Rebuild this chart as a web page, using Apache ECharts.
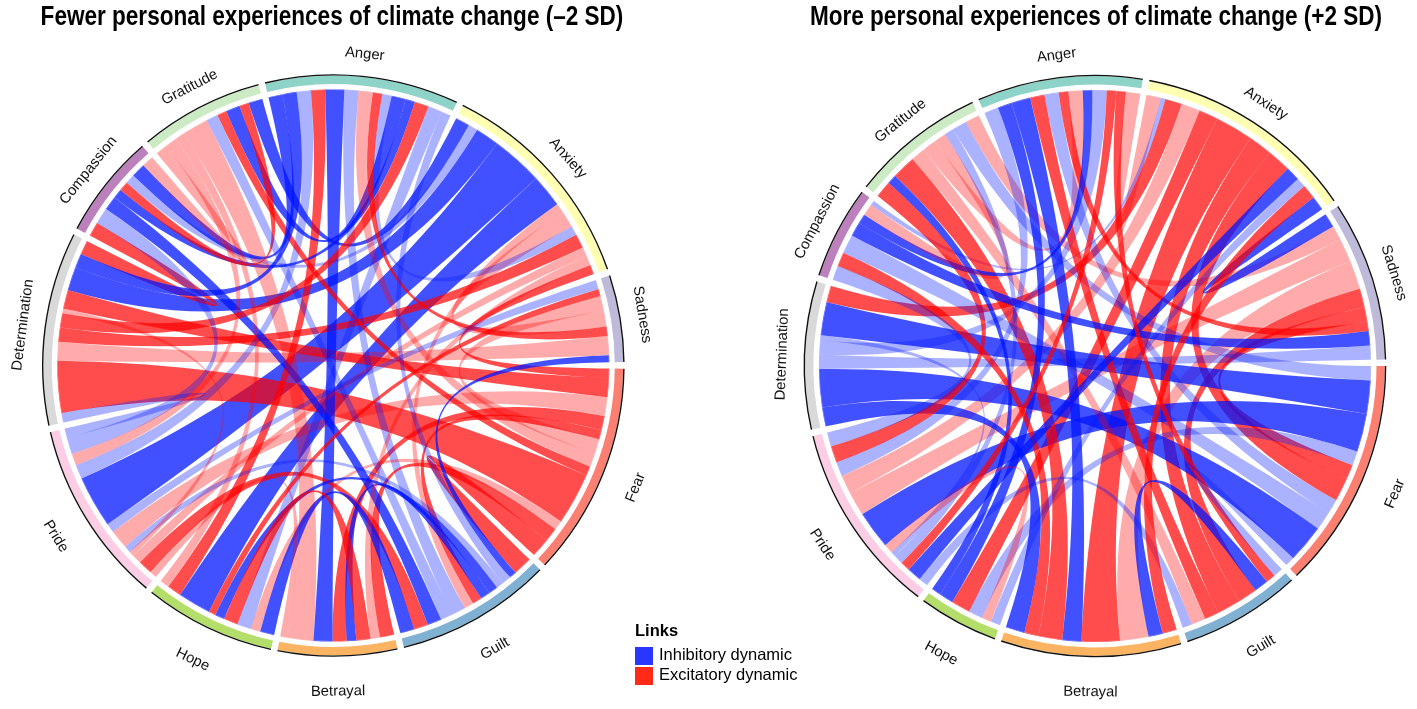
<!DOCTYPE html>
<html>
<head>
<meta charset="utf-8">
<script src="https://cdn.jsdelivr.net/npm/echarts@6.0.0/dist/echarts.min.js"></script>
<style>
  html, body { margin: 0; padding: 0; background: #fff; }
  #main { width: 1417px; height: 709px; }
</style>
</head>
<body>
<div id="main"></div>
<script>
const emotions = ['Anger', 'Anxiety', 'Sadness', 'Fear', 'Guilt', 'Betrayal', 'Hope', 'Pride', 'Determination', 'Compassion', 'Gratitude'];
const sectorColors = ['#8DD3C7', '#FFFFB3', '#BEBADA', '#FB8072', '#80B1D3', '#FDB462', '#B3DE69', '#FCCDE5', '#D9D9D9', '#BC80BD', '#CCEBC5'];

// [source, target, weight, kind]  B/b = inhibitory (strong/weak), R/r = excitatory (strong/weak)
const linksLow = [
  ['Anxiety', 'Pride', 11, 'B'],
  ['Anxiety', 'Hope', 7, 'B'],
  ['Anxiety', 'Determination', 5, 'B'],
  ['Anxiety', 'Gratitude', 3, 'B'],
  ['Anxiety', 'Compassion', 2, 'b'],
  ['Anxiety', 'Guilt', 2, 'r'],
  ['Anxiety', 'Sadness', 3.5, 'r'],
  ['Determination', 'Fear', 11, 'R'],
  ['Determination', 'Sadness', 4, 'r'],
  ['Determination', 'Anxiety', 3, 'R'],
  ['Fear', 'Determination', 4, 'R'],
  ['Fear', 'Pride', 4, 'r'],
  ['Fear', 'Guilt', 2, 'R'],
  ['Fear', 'Betrayal', 3, 'R'],
  ['Sadness', 'Fear', 3, 'r'],
  ['Anger', 'Betrayal', 4, 'B'],
  ['Anger', 'Guilt', 3, 'b'],
  ['Anger', 'Hope', 3, 'R'],
  ['Anger', 'Pride', 3, 'b'],
  ['Gratitude', 'Anger', 3, 'B'],
  ['Compassion', 'Anger', 2, 'B'],
  ['Guilt', 'Fear', 4, 'R'],
  ['Guilt', 'Betrayal', 2, 'B'],
  ['Betrayal', 'Fear', 3, 'R'],
  ['Hope', 'Fear', 2, 'r'],
  ['Pride', 'Guilt', 3, 'R'],
  ['Pride', 'Anxiety', 2, 'r'],
  ['Gratitude', 'Fear', 2, 'R'],
  ['Compassion', 'Guilt', 3, 'B'],
  ['Gratitude', 'Betrayal', 5.5, 'r'],
  ['Hope', 'Guilt', 3, 'B'],
  ['Pride', 'Betrayal', 1.5, 'r'],
  ['Anger', 'Anxiety', 2, 'b'],
  ['Compassion', 'Determination', 3, 'R'],
  ['Gratitude', 'Hope', 2, 'r'],
  ['Anger', 'Sadness', 2, 'R'],
  ['Determination', 'Pride', 2, 'b'],
  ['Anger', 'Fear', 3, 'r'],
  ['Determination', 'Anger', 3, 'R'],
  ['Hope', 'Anger', 3, 'b'],
  ['Anger', 'Compassion', 3, 'B'],
  ['Guilt', 'Anger', 2, 'b'],
  ['Anger', 'Determination', 3, 'B'],
  ['Fear', 'Anxiety', 2, 'R'],
  ['Betrayal', 'Anxiety', 2, 'r'],
  ['Sadness', 'Pride', 2, 'b'],
  ['Guilt', 'Sadness', 1.5, 'B'],
  ['Sadness', 'Hope', 1.5, 'R'],
  ['Guilt', 'Hope', 2, 'B'],
  ['Guilt', 'Pride', 1.5, 'b'],
  ['Betrayal', 'Hope', 3, 'R'],
  ['Pride', 'Determination', 1, 'r'],
  ['Compassion', 'Pride', 3.5, 'b'],
  ['Gratitude', 'Compassion', 2.5, 'r'],
  ['Compassion', 'Gratitude', 2, 'R'],
  ['Gratitude', 'Guilt', 2.5, 'b'],
  ['Gratitude', 'Pride', 2.5, 'r']
];

const linksHigh = [
  ['Anxiety', 'Betrayal', 8, 'R'],
  ['Anxiety', 'Guilt', 5, 'R'],
  ['Anxiety', 'Fear', 5, 'R'],
  ['Anxiety', 'Hope', 4, 'R'],
  ['Anxiety', 'Pride', 4, 'r'],
  ['Anxiety', 'Anger', 3, 'r'],
  ['Anxiety', 'Determination', 3.5, 'R'],
  ['Anxiety', 'Compassion', 1, 'b'],
  ['Sadness', 'Betrayal', 6, 'r'],
  ['Sadness', 'Pride', 5, 'r'],
  ['Sadness', 'Guilt', 4, 'R'],
  ['Sadness', 'Fear', 3, 'R'],
  ['Sadness', 'Gratitude', 3, 'r'],
  ['Sadness', 'Anxiety', 3, 'B'],
  ['Fear', 'Determination', 7, 'B'],
  ['Fear', 'Pride', 8, 'B'],
  ['Fear', 'Hope', 3, 'b'],
  ['Fear', 'Gratitude', 3, 'b'],
  ['Determination', 'Fear', 8, 'B'],
  ['Determination', 'Sadness', 3, 'b'],
  ['Determination', 'Betrayal', 4, 'B'],
  ['Determination', 'Anger', 3, 'b'],
  ['Gratitude', 'Betrayal', 5, 'R'],
  ['Gratitude', 'Guilt', 3, 'r'],
  ['Gratitude', 'Anger', 3, 'r'],
  ['Gratitude', 'Hope', 2, 'B'],
  ['Gratitude', 'Pride', 3.5, 'R'],
  ['Anger', 'Betrayal', 4, 'B'],
  ['Anger', 'Pride', 3, 'b'],
  ['Anger', 'Guilt', 3, 'R'],
  ['Anger', 'Hope', 3, 'B'],
  ['Anger', 'Fear', 3, 'b'],
  ['Anger', 'Sadness', 2, 'R'],
  ['Compassion', 'Fear', 4, 'b'],
  ['Compassion', 'Sadness', 3, 'B'],
  ['Compassion', 'Anger', 2, 'B'],
  ['Compassion', 'Betrayal', 3, 'R'],
  ['Compassion', 'Pride', 3, 'b'],
  ['Compassion', 'Gratitude', 2.5, 'r'],
  ['Pride', 'Anxiety', 3, 'B'],
  ['Pride', 'Anger', 2, 'R'],
  ['Pride', 'Guilt', 2, 'b'],
  ['Pride', 'Determination', 1, 'b'],
  ['Pride', 'Gratitude', 2, 'b'],
  ['Hope', 'Anxiety', 2, 'b'],
  ['Hope', 'Pride', 2, 'r'],
  ['Betrayal', 'Anxiety', 3, 'R'],
  ['Guilt', 'Anger', 2, 'R'],
  ['Guilt', 'Fear', 2, 'b'],
  ['Guilt', 'Betrayal', 3, 'B']
];

const linkColors = {
  B: 'rgba(0,20,255,0.74)',
  b: 'rgba(0,20,255,0.33)',
  R: 'rgba(255,0,0,0.7)',
  r: 'rgba(255,0,0,0.33)'
};

const R = 291.5;    // outer edge of the track
const GAP = 1.3;    // gap between sectors, degrees
const labelFont = "'Liberation Sans', Arial, sans-serif";
const CLEAR = 'rgba(0,0,0,0)';

function sectorTotals(links) {
  const t = emotions.map(() => 0);
  links.forEach(([s, tg, v]) => {
    t[emotions.indexOf(s)] += v;
    t[emotions.indexOf(tg)] += v;
  });
  return t;
}

function buildChart(links, center, startAngle) {
  const n = emotions.length;
  const tot = sectorTotals(links);
  const sum = tot.reduce((a, b) => a + b, 0);
  const spacer = GAP * sum / (360 - n * GAP);

  // every link gets its own end on the source sector and on the target sector,
  // so the chord series can colour it with lineStyle.color = 'source'
  const ends = emotions.map(() => ({ out: [], inc: [] }));
  links.forEach(([s, t, v, k], i) => {
    const si = emotions.indexOf(s), ti = emotions.indexOf(t);
    ends[si].out.push({ id: i, other: ti, k: k });
    ends[ti].inc.push({ id: i, other: si, k: k });
  });

  const nodes = [];
  const ring = [];
  let acc = 0;
  emotions.forEach((name, ei) => {
    const order = (a, b) => ((b.other - ei + n) % n) - ((a.other - ei + n) % n);
    ends[ei].out.sort(order).forEach(e => nodes.push({ name: 's' + e.id, itemStyle: { color: linkColors[e.k] } }));
    ends[ei].inc.sort(order).forEach(e => nodes.push({ name: 't' + e.id, itemStyle: { color: linkColors[e.k] } }));
    nodes.push({ name: 'gap' + ei, value: spacer, itemStyle: { color: CLEAR } });
    // labels on the lower half are turned upright, which puts them a little further out
    const mid = 90 - startAngle + (acc + tot[ei] / 2) / (sum + n * spacer) * 360;
    const m = ((mid % 360) + 360) % 360;
    ring.push({ name: name, value: tot[ei], color: sectorColors[ei], flipped: m > 90 && m < 270 });
    ring.push({ name: '', value: spacer, color: CLEAR });
    acc += tot[ei] + spacer;
  });

  const pieBase = {
    type: 'pie',
    center: center,
    startAngle: startAngle,
    clockwise: true,
    silent: true,
    avoidLabelOverlap: false,
    labelLine: { show: false }
  };
  const labelRing = (radius, flipped) => Object.assign({}, pieBase, {
    radius: radius,
    itemStyle: { color: CLEAR },
    label: {
      show: true, position: 'inside', rotate: 'tangential',
      color: '#111', fontSize: 14.8, fontFamily: labelFont
    },
    data: ring.map(d => ({ name: d.name, value: d.value, label: { show: !!d.name && d.flipped === flipped } }))
  });

  return [
    {
      type: 'chord',
      center: center,
      radius: [R - 16, R - 15.4],
      startAngle: startAngle,
      clockwise: true,
      padAngle: 0,
      minAngle: 0,
      silent: true,
      itemStyle: { borderWidth: 0, borderRadius: 0 },
      label: { show: false },
      lineStyle: { color: 'source', opacity: 1, width: 0 },
      data: nodes,
      links: links.map(([s, t, v], i) => ({ source: 's' + i, target: 't' + i, value: v }))
    },
    Object.assign({}, pieBase, {
      radius: [R - 10, R - 1.6],
      label: { show: false },
      data: ring.map(d => ({ name: d.name, value: d.value, itemStyle: { color: d.color } }))
    }),
    Object.assign({}, pieBase, {
      radius: [R - 1.6, R - 0.2],
      label: { show: false },
      data: ring.map(d => ({ name: d.name, value: d.value, itemStyle: { color: d.name ? '#111' : CLEAR } }))
    }),
    labelRing([R + 13, R + 24], false),
    labelRing([R + 26, R + 37], true)
  ];
}

const chart = echarts.init(document.getElementById('main'), null, { renderer: 'canvas' });
chart.setOption({
  animation: false,
  series: [].concat(
    buildChart(linksLow, [333.3, 365.5], 103.6),
    buildChart(linksHigh, [1095, 366], 113.6)
  ),
  graphic: [
    {
      type: 'text', x: 332, y: 17, scaleX: 0.82,
      style: { text: 'Fewer personal experiences of climate change (\u20132 SD)', font: 'bold 27.5px ' + labelFont, fill: '#000', align: 'center', verticalAlign: 'middle' }
    },
    {
      type: 'text', x: 1096, y: 17, scaleX: 0.82,
      style: { text: 'More personal experiences of climate change (+2 SD)', font: 'bold 27.5px ' + labelFont, fill: '#000', align: 'center', verticalAlign: 'middle' }
    },
    { type: 'text', left: 635, top: 623, style: { text: 'Links', font: 'bold 16.5px ' + labelFont, fill: '#000' } },
    { type: 'rect', left: 635, top: 647, shape: { width: 18, height: 18 }, style: { fill: '#2a35ff' } },
    { type: 'rect', left: 635, top: 667, shape: { width: 18, height: 18 }, style: { fill: '#ff2a18' } },
    { type: 'text', left: 659, top: 647, style: { text: 'Inhibitory dynamic', font: '16.5px ' + labelFont, fill: '#000' } },
    { type: 'text', left: 659, top: 667, style: { text: 'Excitatory dynamic', font: '16.5px ' + labelFont, fill: '#000' } }
  ]
});
</script>
</body>
</html>
